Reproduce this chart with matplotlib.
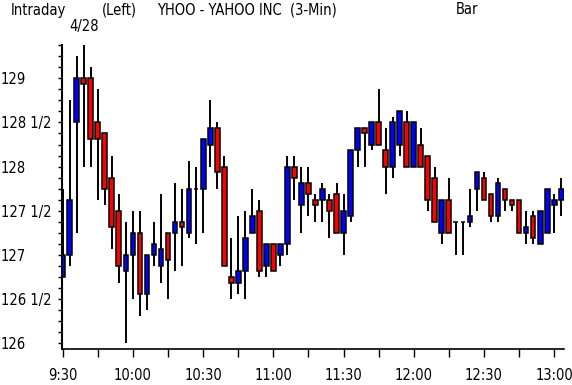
import matplotlib
matplotlib.use("Agg")
import matplotlib.pyplot as plt
from matplotlib import font_manager
from matplotlib.ticker import MultipleLocator

# narrow regular face if there is one, like the original bitmap font
narrow = None
for f in font_manager.fontManager.ttflist:
    if f.style != 'normal' or f.weight not in (400, 'normal', 'regular', 'book'):
        continue
    if f.name in ('Liberation Sans Narrow', 'DejaVu Sans Condensed') or \
            ('Sans' in f.name and f.stretch in ('condensed', 'semi-condensed')):
        narrow = f.fname
        break

# 3-minute bars, 9:30 .. 13:03
opens = [126.75, 127.0, 128.5, 129.0, 129.0, 128.5, 128.375, 127.875, 127.5, 126.8125,
         127.0, 127.25, 126.5625, 127.0, 126.875, 127.25, 127.25, 127.375, 127.25, 127.75,
         127.75, 128.25, 128.4375, 128.0, 126.75, 126.6875, 126.8125, 127.25, 127.5, 126.875,
         127.125, 127.0, 127.125, 128.0, 127.5625, 127.8125, 127.625, 127.625, 127.625, 127.6875,
         127.25, 127.4375, 128.1875, 128.4375, 128.25, 128.5, 128.1875, 128.0, 128.25, 128.5,
         128.0, 128.25, 128.125, 127.875, 127.25, 127.625, 127.375, 127.375, 127.375, 127.75,
         127.875, 127.6875, 127.4375, 127.75, 127.625, 127.625, 127.25, 127.4375, 127.125, 127.25,
         127.5625, 127.625]
highs = [127.75, 128.75, 129.25, 129.375, 129.125, 128.875, 128.375, 128.125, 127.6875, 127.375,
         127.5, 127.5, 127.0, 127.375, 127.6875, 127.25, 127.8125, 127.75, 128.0625, 128.0,
         128.3125, 128.75, 128.5, 128.125, 127.1875, 127.4375, 127.5, 127.75, 127.625, 127.125,
         127.125, 127.125, 128.125, 128.125, 128.0, 128.0, 127.6875, 127.8125, 127.6875, 127.8125,
         127.6875, 128.1875, 128.4375, 128.4375, 128.5, 128.875, 128.4375, 128.5625, 128.625, 128.625,
         128.5, 128.4375, 128.125, 128.0, 127.625, 127.875, 127.375, 127.375, 127.75, 127.9375,
         127.9375, 127.6875, 127.875, 127.75, 127.625, 127.625, 127.5, 127.5, 127.5, 127.75,
         127.6875, 127.875]
lows = [126.75, 126.875, 127.25, 128.0, 128.0, 127.625, 127.5625, 127.0625, 126.6875, 126.0,
        126.5, 126.3125, 126.375, 126.875, 126.6875, 126.5, 126.8125, 126.875, 127.1875, 127.125,
        127.25, 128.0, 127.75, 126.875, 126.5, 126.5625, 126.5, 127.25, 126.75, 126.75,
        126.8125, 126.875, 127.0, 127.625, 127.25, 127.4375, 127.375, 127.375, 127.1875, 127.25,
        127.0, 127.375, 128.0, 128.0, 128.1875, 128.25, 127.6875, 127.875, 128.125, 128.0,
        128.0, 128.0, 127.5, 127.375, 127.125, 127.25, 127.0, 127.0, 127.3125, 127.5,
        127.625, 127.375, 127.375, 127.5, 127.5, 127.25, 127.125, 127.125, 127.125, 127.25,
        127.25, 127.4375]
closes = [127.0, 127.625, 129.0, 128.9375, 128.3125, 128.3125, 127.75, 127.3125, 126.875, 127.0,
          127.25, 126.5625, 127.0, 127.125, 127.0625, 126.9375, 127.375, 127.3125, 127.75, 127.75,
          128.3125, 128.4375, 127.9375, 126.875, 126.6875, 126.8125, 127.1875, 127.4375, 126.8125, 127.125,
          126.8125, 127.125, 128.0, 127.875, 127.8125, 127.6875, 127.5625, 127.75, 127.5, 127.25,
          127.5, 128.1875, 128.4375, 128.375, 128.5, 128.25, 128.0, 128.5, 128.625, 128.0,
          128.5, 128.0, 127.625, 127.375, 127.625, 127.25, 127.375, 127.375, 127.4375, 127.9375,
          127.625, 127.4375, 127.8125, 127.625, 127.5625, 127.25, 127.3125, 127.1875, 127.5, 127.75,
          127.625, 127.75]

time_labels = ["9:30", "10:00", "10:30", "11:00", "11:30", "12:00", "12:30", "13:00"]
price_ticks = [126, 126.5, 127, 127.5, 128, 128.5, 129]
price_labels = ["126", "126 1/2", "127", "127 1/2", "128", "128 1/2", "129"]

if narrow:
    fp = font_manager.FontProperties(fname=narrow, size=10.5)
else:
    fp = font_manager.FontProperties(family='DejaVu Sans', size=9.5)

fig = plt.figure(figsize=(5.72, 3.85), dpi=100)
ax = fig.add_axes([62 / 572, 36 / 385, 502 / 572, 304 / 385])

x = list(range(len(opens)))
ax.vlines(x, lows, highs, color='black', linewidth=1.4, zorder=1)
body_bottom = [min(o, c) for o, c in zip(opens, closes)]
body_height = [abs(c - o) for o, c in zip(opens, closes)]
colors = ['#0000ff' if c > o else '#ff0000' for o, c in zip(opens, closes)]
ax.bar(x, body_height, bottom=body_bottom, width=0.68, color=colors,
       edgecolor='black', linewidth=1.1, zorder=2)

ax.set_xlim(-0.1, 71.4)
ax.set_ylim(125.935, 129.377)

for s in ['top', 'right']:
    ax.spines[s].set_visible(False)
ax.spines['left'].set_linewidth(1.5)
ax.spines['bottom'].set_linewidth(1.2)

ax.set_xticks([10 * k for k in range(len(time_labels))])
ax.set_xticklabels(time_labels, fontproperties=fp)
ax.xaxis.set_minor_locator(MultipleLocator(5))
ax.tick_params(axis='x', which='both', length=6, width=1, pad=8)

ax.set_yticks(price_ticks)
ax.set_yticklabels(price_labels, fontproperties=fp)
ax.yaxis.set_minor_locator(MultipleLocator(0.125))
ax.tick_params(axis='y', which='both', length=3, width=1, pad=41)
for lab in ax.get_yticklabels():
    lab.set_horizontalalignment('left')

fig.text(11 / 572, 1 - 10 / 385, "Intraday", fontproperties=fp, va='center', ha='left')
fig.text(102 / 572, 1 - 10 / 385, "(Left)", fontproperties=fp, va='center', ha='left')
fig.text(157 / 572, 1 - 10 / 385, "YHOO - YAHOO INC  (3-Min)", fontproperties=fp, va='center', ha='left')
fig.text(456 / 572, 1 - 10 / 385, "Bar", fontproperties=fp, va='center', ha='left')
fig.text(69 / 572, 1 - 27 / 385, "4/28", fontproperties=fp, va='center', ha='left')

fig.savefig("out.png", dpi=100)
